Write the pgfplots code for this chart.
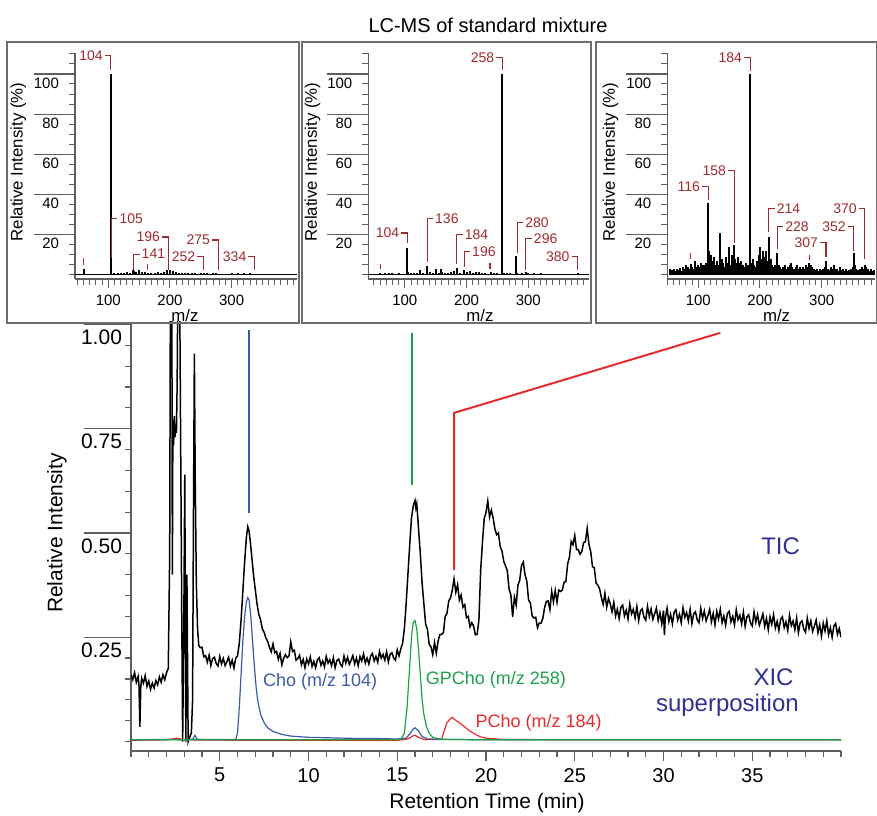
\documentclass[border=0pt]{standalone}
\usepackage{fontspec}
\setmainfont{Liberation Sans}
\usepackage{pgfplots}
\pgfplotsset{compat=1.18}

\definecolor{axgray}{HTML}{5E5E5E}
\definecolor{boxgray}{HTML}{6E6E6E}
\definecolor{choblue}{HTML}{3A5BA9}
\definecolor{gpgreen}{HTML}{1BA14B}
\definecolor{pred}{HTML}{E82A2C}
\definecolor{navy}{HTML}{2E3192}
\definecolor{labred}{HTML}{A12A2F}

\newcommand{\inlab}{\fontsize{7}{8}\selectfont}
% bracket labels in the spectra: r = text left of bracket, l = text right
\newcommand{\rlab}[4]{\draw[labred, line width=0.55pt] (axis cs:#1,#3) -- (axis cs:#1,#2) -- ++(-3pt,0pt) node[anchor=east, inner sep=0.8pt, text=labred, font=\inlab] {#4};}
\newcommand{\llab}[4]{\draw[labred, line width=0.55pt] (axis cs:#1,#3) -- (axis cs:#1,#2) -- ++(3pt,0pt) node[anchor=west, inner sep=0.8pt, text=labred, font=\inlab] {#4};}

\pgfplotsset{
  spec/.style={
    scale only axis, width=111pt, height=113pt, anchor=south west,
    ymin=-2, ymax=110.4,
    axis x line=bottom, axis y line=left,
    axis line style={-, axgray, line width=0.6pt},
    tick align=outside, tick style={axgray, line width=0.5pt},
    major tick length=4.5pt, minor tick length=3pt,
    xtick={100,200,300}, minor xtick={50,60,...,400},
    ytick={20,40,...,100}, minor ytick={0,5,...,110},
    /pgf/number format/assume math mode=true,
    ticklabel style={font=\fontsize{7.5}{9}\selectfont, text=black},
    yticklabel style={anchor=east, yshift=-4.5pt},
    clip=false,
  },
}

\begin{document}
\begin{tikzpicture}
\useasboundingbox (0,0) rectangle (438.5pt,407.5pt);

% ---------------- main chromatogram ----------------
\begin{axis}[
  at={(65.5pt,32pt)}, anchor=south west,
  scale only axis, width=355pt, height=214.5pt,
  xmin=0, xmax=40, ymin=-0.0228, ymax=1.006,
  axis x line=bottom, axis y line=left,
  axis line style={-, axgray, line width=0.7pt},
  tick align=outside, tick style={axgray, line width=0.6pt},
  major tick length=5pt, minor tick length=3pt,
  xtick={5,10,...,35}, minor xtick={0,1,...,40},
  ytick={0.25,0.5,0.75,1.0}, minor ytick={0,0.05,...,1.0},
  /pgf/number format/assume math mode=true,
  ticklabel style={font=\fontsize{10}{12}\selectfont, text=black},
  yticklabel style={anchor=east, yshift=-6.5pt, xshift=4pt,
    font=\fontsize{10.5}{12}\selectfont,
    /pgf/number format/fixed, /pgf/number format/fixed zerofill,
    /pgf/number format/precision=2},
  clip mode=individual,
]
% TIC
\addplot[black, line width=0.75pt] table {
t y
0.0 0.160
0.1 0.148
0.2 0.165
0.3 0.142
0.4 0.156
0.45 0.135
0.5 0.035
0.55 0.130
0.6 0.152
0.7 0.140
0.8 0.158
0.9 0.132
1.0 0.145
1.1 0.125
1.2 0.140
1.3 0.128
1.4 0.146
1.5 0.136
1.6 0.155
1.7 0.142
1.8 0.160
1.9 0.148
2.0 0.165
2.1 0.175
2.18 0.45
2.22 1.10
2.30 1.10
2.33 0.40
2.36 0.77
2.40 0.71
2.44 0.78
2.48 0.73
2.52 0.76
2.56 0.74
2.60 0.86
2.64 1.10
2.74 1.10
2.80 0.70
2.86 0.30
2.91 0.00
2.97 0.25
3.03 0.64
3.09 0.00
3.15 0.40
3.22 0.00
3.30 0.010
3.40 0.020
3.47 0.10
3.52 0.55
3.57 0.93
3.62 0.62
3.68 0.38
3.75 0.27
3.82 0.23
3.9 0.225
4.0 0.226
4.1 0.203
4.2 0.206
4.3 0.190
4.4 0.207
4.5 0.182
4.6 0.199
4.7 0.202
4.8 0.187
4.9 0.181
5.0 0.204
5.1 0.186
5.2 0.199
5.3 0.182
5.4 0.191
5.5 0.202
5.6 0.181
5.7 0.195
5.8 0.176
5.9 0.200
6.0 0.205
6.1 0.235
6.2 0.290
6.3 0.360
6.4 0.430
6.5 0.490
6.58 0.515
6.65 0.505
6.72 0.480
6.8 0.445
6.9 0.400
7.0 0.365
7.1 0.330
7.2 0.305
7.3 0.292
7.4 0.270
7.5 0.262
7.6 0.248
7.7 0.240
7.8 0.226
7.9 0.215
8.0 0.234
8.1 0.213
8.2 0.216
8.3 0.197
8.4 0.211
8.5 0.184
8.6 0.200
8.7 0.208
8.8 0.201
8.9 0.205
9.0 0.239
9.1 0.216
9.2 0.219
9.3 0.195
9.4 0.199
9.5 0.207
9.6 0.184
9.7 0.197
9.8 0.177
9.9 0.198
10.0 0.186
10.1 0.203
10.2 0.180
10.3 0.192
10.4 0.177
10.5 0.196
10.6 0.201
10.7 0.183
10.8 0.193
10.9 0.179
11.0 0.204
11.1 0.188
11.2 0.196
11.3 0.182
11.4 0.201
11.5 0.177
11.6 0.194
11.7 0.198
11.8 0.185
11.9 0.180
12.0 0.205
12.1 0.188
12.2 0.202
12.3 0.185
12.4 0.195
12.5 0.206
12.6 0.186
12.7 0.200
12.8 0.182
12.9 0.204
13.0 0.193
13.1 0.210
13.2 0.188
13.3 0.200
13.4 0.186
13.5 0.205
13.6 0.211
13.7 0.193
13.8 0.204
13.9 0.190
14.0 0.216
14.1 0.200
14.2 0.209
14.3 0.195
14.4 0.215
14.5 0.191
14.6 0.209
14.7 0.213
14.8 0.200
14.9 0.195
15.0 0.220
15.1 0.205
15.2 0.222
15.3 0.235
15.4 0.270
15.5 0.330
15.6 0.400
15.7 0.470
15.8 0.535
15.9 0.565
16.0 0.578
16.05 0.560
16.1 0.570
16.2 0.510
16.3 0.450
16.4 0.380
16.5 0.330
16.6 0.281
16.7 0.269
16.8 0.233
16.9 0.227
17.0 0.208
17.1 0.237
17.2 0.212
17.3 0.241
17.4 0.256
17.5 0.257
17.6 0.261
17.7 0.300
17.8 0.307
17.9 0.337
18.0 0.344
18.1 0.363
18.2 0.390
18.3 0.358
18.4 0.376
18.5 0.339
18.6 0.351
18.7 0.322
18.8 0.328
18.9 0.297
19.0 0.300
19.1 0.275
19.2 0.285
19.3 0.277
19.4 0.256
19.5 0.257
19.6 0.291
19.7 0.411
19.8 0.478
19.9 0.535
20.0 0.549
20.1 0.577
20.2 0.538
20.3 0.555
20.4 0.536
20.5 0.510
20.6 0.496
20.7 0.500
20.8 0.467
20.9 0.457
21.0 0.432
21.1 0.421
21.2 0.410
21.3 0.365
21.4 0.352
21.5 0.299
21.6 0.346
21.7 0.327
21.8 0.375
21.9 0.387
22.0 0.422
22.1 0.430
22.2 0.400
22.3 0.384
22.4 0.339
22.5 0.332
22.6 0.301
22.7 0.296
22.8 0.298
22.9 0.273
23.0 0.284
23.1 0.284
23.2 0.295
23.3 0.321
23.4 0.336
23.5 0.337
23.6 0.316
23.7 0.360
23.8 0.335
23.9 0.362
24.0 0.334
24.1 0.363
24.2 0.360
24.3 0.363
24.4 0.382
24.5 0.384
24.6 0.426
24.7 0.442
24.8 0.480
24.9 0.472
25.0 0.494
25.1 0.460
25.2 0.460
25.3 0.449
25.4 0.456
25.5 0.477
25.6 0.479
25.7 0.511
25.8 0.473
25.9 0.455
26.0 0.419
26.1 0.417
26.2 0.380
26.3 0.375
26.4 0.366
26.5 0.345
26.6 0.329
26.7 0.355
26.8 0.322
26.9 0.343
27.0 0.330
27.1 0.311
27.2 0.334
27.3 0.301
27.4 0.317
27.5 0.295
27.6 0.322
27.7 0.327
27.8 0.301
27.9 0.315
28.0 0.294
28.1 0.330
28.2 0.306
28.3 0.317
28.4 0.296
28.5 0.324
28.6 0.290
28.7 0.313
28.8 0.318
28.9 0.298
29.0 0.291
29.1 0.324
29.2 0.300
29.3 0.318
29.4 0.293
29.5 0.306
29.6 0.320
29.7 0.290
29.8 0.309
29.9 0.282
30.0 0.314
30.05 0.255
30.1 0.296
30.2 0.320
30.3 0.288
30.4 0.305
30.5 0.282
30.6 0.310
30.7 0.316
30.8 0.291
30.9 0.305
31.0 0.285
31.1 0.321
31.2 0.298
31.3 0.309
31.4 0.289
31.5 0.317
31.6 0.283
31.7 0.306
31.8 0.311
31.9 0.292
32.0 0.285
32.1 0.319
32.2 0.295
32.3 0.313
32.4 0.289
32.5 0.302
32.6 0.317
32.7 0.287
32.8 0.307
32.9 0.280
33.0 0.312
33.1 0.294
33.2 0.317
33.3 0.285
33.4 0.301
33.5 0.279
33.6 0.307
33.7 0.312
33.8 0.287
33.9 0.300
34.0 0.280
34.1 0.316
34.2 0.292
34.3 0.303
34.4 0.282
34.5 0.310
34.6 0.276
34.7 0.299
34.8 0.304
34.9 0.284
35.0 0.277
35.1 0.311
35.2 0.286
35.3 0.304
35.4 0.279
35.5 0.292
35.6 0.306
35.7 0.276
35.8 0.295
35.9 0.268
36.0 0.299
36.1 0.281
36.2 0.304
36.3 0.272
36.4 0.288
36.5 0.266
36.6 0.293
36.7 0.299
36.8 0.273
36.9 0.287
37.0 0.266
37.1 0.302
37.2 0.278
37.3 0.289
37.4 0.268
37.5 0.296
37.6 0.261
37.7 0.285
37.8 0.289
37.9 0.270
38.0 0.262
38.1 0.296
38.2 0.271
38.3 0.289
38.4 0.264
38.5 0.277
38.6 0.291
38.7 0.261
38.8 0.280
38.9 0.253
39.0 0.284
39.1 0.265
39.2 0.289
39.3 0.256
39.4 0.273
39.5 0.250
39.6 0.277
39.7 0.283
39.8 0.257
39.9 0.271
40.0 0.250
};
% XIC m/z 184 (PCho)
\addplot[pred, line width=0.6pt] coordinates {
(0,0.003) (2,0.004) (2.6,0.008) (3.0,0.004) (6,0.003) (10,0.003) (15,0.003)
(15.6,0.006) (15.9,0.014) (16.0,0.015) (16.2,0.010) (16.5,0.005) (17.5,0.005)
(17.6,0.020) (17.8,0.045) (18.0,0.055) (18.1,0.058) (18.25,0.052) (18.5,0.045)
(18.8,0.035) (19.1,0.025) (19.4,0.017) (19.7,0.011) (20.0,0.008) (21,0.005)
(25,0.004) (30,0.004) (35,0.004) (40,0.004)
};
% XIC m/z 104 (Cho)
\addplot[choblue, line width=0.6pt] coordinates {
(0,0.004) (2,0.005) (3.0,0.004) (3.5,0.006) (3.6,0.015) (3.7,0.006) (4,0.005)
(5,0.005) (5.9,0.005) (6.0,0.02) (6.1,0.08) (6.2,0.16) (6.3,0.24) (6.4,0.30)
(6.5,0.335) (6.58,0.345) (6.65,0.34) (6.75,0.30) (6.85,0.24) (6.95,0.18)
(7.05,0.13) (7.15,0.095) (7.3,0.065) (7.5,0.045) (7.7,0.033) (8.0,0.024)
(8.5,0.017) (9.0,0.013) (10,0.010) (11,0.009) (12,0.008) (13,0.007) (14,0.007)
(15,0.006) (15.5,0.008) (15.7,0.018) (15.9,0.030) (16.0,0.033) (16.2,0.025)
(16.4,0.012) (16.7,0.006) (18,0.005) (20,0.004) (25,0.004) (30,0.004) (35,0.004) (40,0.004)
};
% XIC m/z 258 (GPCho)
\addplot[gpgreen, line width=0.6pt] coordinates {
(0,0.004) (5,0.004) (10,0.004) (15.2,0.005) (15.4,0.02) (15.55,0.08) (15.7,0.18)
(15.8,0.25) (15.9,0.285) (16.0,0.29) (16.1,0.27) (16.2,0.22) (16.3,0.16)
(16.4,0.10) (16.5,0.065) (16.65,0.035) (16.8,0.02) (17.0,0.010) (17.5,0.005)
(20,0.004) (25,0.004) (30,0.004) (35,0.004) (40,0.004)
};
% long major y ticks
\pgfplotsinvokeforeach{0.25,0.5,0.75,1.0}{
  \draw[axgray, line width=0.6pt] (axis cs:0,#1) -- ++(-23.5pt,0pt);
}
% pointers to the spectra
\draw[choblue, line width=1pt] (axis cs:6.65,0.549) -- (axis cs:6.65,0.987);
\draw[gpgreen, line width=1pt] (axis cs:15.83,0.615) -- (axis cs:15.83,0.98);
\draw[pred, line width=1pt] (axis cs:18.2,0.411) -- (axis cs:18.2,0.788) -- (axis cs:33.2,0.98);
% trace labels
\node[text=navy, font=\fontsize{12}{14}\selectfont] at (axis cs:36.6,0.469) {TIC};
\node[text=navy, font=\fontsize{12}{14}\selectfont] at (axis cs:36.2,0.155) {XIC};
\node[text=navy, font=\fontsize{12}{14}\selectfont] at (axis cs:33.6,0.088) {superposition};
\node[text=choblue, font=\fontsize{9}{11}\selectfont] at (axis cs:10.65,0.143) {Cho (m/z 104)};
\node[text=gpgreen, font=\fontsize{9}{11}\selectfont] at (axis cs:20.56,0.147) {GPCho (m/z 258)};
\node[text=pred, font=\fontsize{9}{11}\selectfont] at (axis cs:22.96,0.044) {PCho (m/z 184)};
\end{axis}

\node[font=\fontsize{10.5}{12}\selectfont] at (243.5pt,6pt) {Retention Time (min)};
\node[font=\fontsize{10.5}{12}\selectfont, rotate=90] at (28.5pt,141pt) {Relative Intensity};
\node[font=\fontsize{10}{12}\selectfont] at (244pt,395pt) {LC-MS of standard mixture};

% ---------------- spectrum 1: Cho ----------------
\draw[boxgray, line width=0.75pt] (3.5pt,246pt) rectangle (149.5pt,386.5pt);
\begin{axis}[spec, at={(37.5pt,268pt)}, xmin=46, xmax=406]
\addplot[black, line width=0.5pt] coordinates {(46,0.3) (406,0.3)};
\addplot[ycomb, black, line width=1pt] coordinates {
(60,3) (61,2) (104,100) (105,9) (110,1) (115,1) (120,1.2) (125,1) (130,1.5)
(135,1.2) (140,2.5) (141,2) (145,1.5) (150,2.5) (155,1.5) (160,1.5) (165,1.2)
(170,1) (175,1) (180,1.5) (185,1) (190,1.5) (195,2.5) (196,2.5) (200,2.5)
(205,2) (210,1.5) (215,1.2) (220,1) (225,1) (230,1) (235,0.8) (240,0.8)
(250,1) (255,0.8) (260,0.8) (270,0.8) (275,0.8) (280,0.6) (290,0.6) (300,0.8)
(310,0.8) (320,0.8) (330,0.8) (335,0.7) (340,0.5) (350,0.5) (360,0.5)
(370,0.5) (380,0.5) (390,0.5) (400,0.5)
};
\pgfplotsinvokeforeach{20,40,60,80,100}{
  \draw[axgray, line width=0.6pt] (axis cs:46,#1) -- ++(-20.5pt,0pt);
}
\rlab{104}{109}{102}{104}
\llab{105}{27.9}{8.5}{105}
\rlab{197}{18.9}{2.5}{196}
\llab{141}{10.4}{2.5}{141}
\rlab{254}{9}{2.5}{252}
\rlab{278}{17.4}{2.5}{275}
\rlab{337}{9}{2.5}{334}
\draw[labred, line width=0.55pt] (axis cs:60,5) -- (axis cs:60,8.5);
\draw[labred, line width=0.55pt] (axis cs:164,2.5) -- (axis cs:164,5.5);
\end{axis}
\node[font=\fontsize{8.4}{9}\selectfont, rotate=90] at (9.2pt,326.5pt) {Relative Intensity (\%)};
\node[font=\fontsize{8.4}{9}\selectfont] at (92.5pt,250pt) {m/z};

% ---------------- spectrum 2: GPCho ----------------
\draw[boxgray, line width=0.75pt] (151pt,246pt) rectangle (295.5pt,386.5pt);
\begin{axis}[spec, at={(184.2pt,268pt)}, width=110.5pt, xmin=41, xmax=399]
\addplot[black, line width=0.5pt] coordinates {(41,0.3) (399,0.3)};
\addplot[ycomb, black, line width=1pt] coordinates {
(60,1) (68,1) (75,0.8) (80,0.8) (90,0.8) (104,13.5) (105,1.5) (110,1) (115,0.8)
(120,1) (125,2.5) (130,1) (136,4.5) (140,1.5) (145,1) (150,3) (155,1) (158,3)
(160,1.5) (165,1) (170,1) (175,1.5) (180,2) (184,3.5) (190,1) (196,2.5)
(200,1.5) (205,2) (210,1) (215,1.5) (220,1.5) (225,1) (230,0.8) (240,1.5)
(245,1) (250,0.8) (258,100) (260,1) (265,1) (270,0.8) (280,9.5) (282,1)
(290,0.8) (296,1.5) (300,0.8) (310,1) (320,0.8) (330,0.6) (340,0.6) (350,0.6)
(360,0.6) (370,0.6) (380,1) (390,0.6)
};
\pgfplotsinvokeforeach{20,40,60,80,100}{
  \draw[axgray, line width=0.6pt] (axis cs:41,#1) -- ++(-20.5pt,0pt);
}
\rlab{258}{108}{102}{258}
\rlab{104}{20.9}{16}{104}
\llab{136}{27.9}{6.5}{136}
\llab{184}{20}{5.5}{184}
\llab{196}{11.5}{4}{196}
\llab{282}{26}{11}{280}
\llab{296}{18}{2.5}{296}
\rlab{380}{9}{2.5}{380}
\draw[labred, line width=0.55pt] (axis cs:60,3) -- (axis cs:60,5.5);
\draw[labred, line width=0.55pt] (axis cs:238,3) -- (axis cs:238,6);
\end{axis}
\node[font=\fontsize{8.4}{9}\selectfont, rotate=90] at (156.3pt,326.5pt) {Relative Intensity (\%)};
\node[font=\fontsize{8.4}{9}\selectfont] at (240pt,250pt) {m/z};

% ---------------- spectrum 3: PCho ----------------
\draw[boxgray, line width=0.75pt] (298pt,246pt) rectangle (438.2pt,386.5pt);
\begin{axis}[spec, at={(333.7pt,268pt)}, width=104pt, xmin=50, xmax=387]
\addplot[ycomb, black, line width=1pt] coordinates {
(55,3) (58,2.5) (60,3) (63,2) (65,3) (68,2.5) (70,3.5) (72,2) (75,4) (78,3)
(80,5) (83,4) (85,3) (88,5.5) (90,4) (93,3) (95,7) (98,4) (100,5) (103,4)
(105,6) (108,5) (110,5) (113,6) (116,36) (118,12) (120,10) (122,7) (125,9)
(128,5) (130,7) (133,5) (136,21) (138,8) (140,6) (142,4) (145,9) (148,6)
(150,14) (152,5) (155,10) (158,15) (160,8) (162,6) (165,9) (168,6) (170,7)
(172,5) (175,4) (178,6) (180,5) (182,4) (184,100) (186,6) (188,8) (190,5)
(192,4) (195,7) (198,10) (200,14) (202,8) (205,12) (208,9) (210,12) (212,7)
(214,19) (216,6) (218,8) (220,5) (222,4) (225,5) (228,11) (230,5) (232,4)
(235,3) (238,4) (240,5) (242,3) (245,4) (248,5) (250,6) (252,4) (255,3)
(258,4) (260,5) (262,3) (265,4) (268,3) (270,4) (272,3) (275,5) (278,4)
(280,6) (282,5) (285,4) (288,3) (290,2.5) (292,3) (295,2) (298,3) (300,2.5)
(302,3) (305,4) (307,7) (310,3) (312,2.5) (315,4) (318,3) (320,5) (322,3)
(325,3) (328,2) (330,4) (332,2.5) (335,3) (338,2) (340,3) (342,2) (345,2.5)
(348,3) (350,4) (352,11) (354,5) (356,3) (358,2.5) (360,2) (362,3) (365,4)
(368,3) (370,5) (372,4) (375,3) (378,2) (380,3) (382,2) (385,2.5)
};
\pgfplotsinvokeforeach{20,40,60,80,100}{
  \draw[axgray, line width=0.6pt] (axis cs:50,#1) -- ++(-20.5pt,0pt);
}
\rlab{184}{108}{101.5}{184}
\rlab{116}{44}{37.5}{116}
\rlab{158}{52}{16}{158}
\llab{214}{33}{21.5}{214}
\llab{228}{24}{12.8}{228}
\rlab{307}{16}{9}{307}
\rlab{352}{24}{12}{352}
\rlab{370}{33}{7.7}{370}
\draw[labred, line width=0.55pt] (axis cs:88,8) -- (axis cs:88,11);
\draw[labred, line width=0.55pt] (axis cs:280,7.5) -- (axis cs:280,10);
\end{axis}
\node[font=\fontsize{8.4}{9}\selectfont, rotate=90] at (305.3pt,326.5pt) {Relative Intensity (\%)};
\node[font=\fontsize{8.4}{9}\selectfont] at (388.3pt,250pt) {m/z};
\end{tikzpicture}
\end{document}
